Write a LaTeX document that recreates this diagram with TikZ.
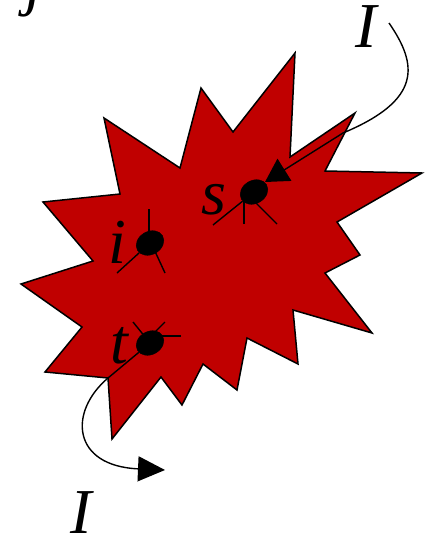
\documentclass[tikz,border=0pt]{standalone}
\usepackage{fontspec}
\setmainfont{Liberation Serif}
\usetikzlibrary{shapes.geometric,arrows.meta}
\definecolor{burst}{RGB}{192,0,0}
\begin{document}
\begin{tikzpicture}[x=1pt,y=-1pt,
  letter/.style={font=\fontsize{64}{64}\selectfont\itshape, anchor=base, inner sep=0pt},
  dot/.style={ellipse, fill=black, draw=black, minimum width=29pt, minimum height=23pt, inner sep=0pt},
  wire/.style={line width=1.4pt},
  burstshape/.style={fill=burst, draw=black, line width=1.5pt, line join=miter}]
\useasboundingbox (0,0) rectangle (429,535);
% explosion shape
\draw[burstshape] (422,173) -- (337,222) -- (360,255) -- (325,273) -- (372,333) -- (293,310)
  -- (298,364) -- (247,338) -- (237,390) -- (203,364) -- (182,405) -- (161,377)
  -- (112,439) -- (108,378) -- (45,372) -- (82,327) -- (21,284) -- (93,261)
  -- (43,202) -- (120,194) -- (104,118) -- (180,168) -- (201,88) -- (233,132)
  -- (295,53) -- (290,157) -- (355,113) -- (325,171) -- cycle;
% labels
\node[letter] (jl) at (34,4) {j};
\node[letter] (Itop) at (366,48) {I};
\node[letter] (Ibot) at (81,533) {I};
\node[letter] (sl) at (214,214) {s};
\node[letter] (il) at (117,263) {i};
\node[letter] (tl) at (119,363) {t};
% dots
\node[dot, rotate=30] (s) at (254,192) {};
\node[dot, rotate=30] (i) at (150,243) {};
\node[dot, rotate=30] (t) at (150,343) {};
% stub coordinates
\coordinate (sa) at (213,225);
\coordinate (sb) at (244,224);
\coordinate (sc) at (277,224);
\coordinate (scin) at (250,197);
\coordinate (ia) at (149,209);
\coordinate (ib) at (117,273);
\coordinate (ic) at (165,273);
\coordinate (icin) at (153,247);
\coordinate (ta) at (133,322);
\coordinate (tb) at (165,322);
\coordinate (tbin) at (150,337);
\coordinate (tc) at (181,336);
\coordinate (td) at (108,378);
\coordinate (tout) at (165,470);
\coordinate (sin) at (389,23);
\coordinate (stip) at (265,182);
% stubs of s
\draw[wire] (s) -- (sa);
\draw[wire] (sb) -- (sb |- s);
\draw[wire] (sc) -- (scin);
% stubs of i
\draw[wire] (ia) -- (ia |- i);
\draw[wire] (ib) -- (i);
\draw[wire] (ic) -- (icin);
% stubs of t
\draw[wire] (ta) -- (t);
\draw[wire] (tb) -- (tbin);
\draw[wire] (tc) -- (tc -| t);
% current in
\draw[wire, -{Triangle[length=23pt,width=26pt]}] (sin) .. controls (418,65) and (422,100) .. (343,133) -- (stip);
% current out
\draw[wire, -{Triangle[length=27pt,width=25pt]}] (t) -- (td) .. controls (68,412) and (72,466) .. (tout);
\end{tikzpicture}
\end{document}
